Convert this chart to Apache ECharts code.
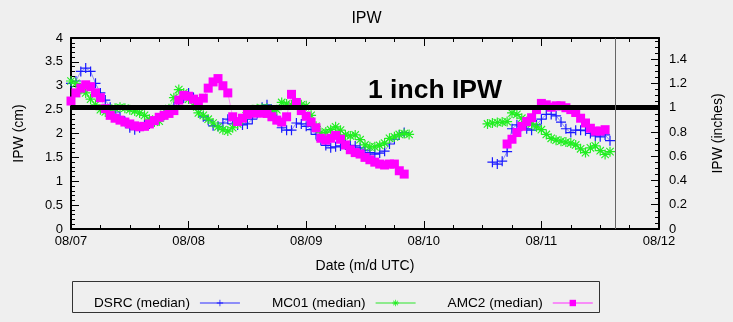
<!DOCTYPE html>
<html><head><meta charset="utf-8">
<script src="https://cdn.jsdelivr.net/npm/echarts@6/dist/echarts.min.js"></script>
<style>html,body{margin:0;padding:0;background:#efefef}#c{width:733px;height:322px}</style>
</head><body><div id="c"></div>
<script>
// x values are hours after 08/07 00:00 UTC
const tickLabels = ['08/07', '08/08', '08/09', '08/10', '08/11', '08/12'];
const seriesNames = ['DSRC (median)', 'MC01 (median)', 'AMC2 (median)'];

const dsrcSeg1Start = 0;
const dsrcSeg1 = [3.05, 3.1, 3.3, 3.37, 3.3, 3.05, 2.85, 2.7, 2.55, 2.45, 2.35, 2.25, 2.12, 2.08, 2.12, 2.18, 2.2, 2.25, 2.3, 2.38, 2.45, 2.55, 2.65, 2.75, 2.85, 2.75, 2.55, 2.35, 2.28, 2.16, 2.15, 2.22, 2.3, 2.2, 2.18, 2.18, 2.2, 2.3, 2.42, 2.55, 2.6, 2.45, 2.3, 2.12, 2.07, 2.07, 2.22, 2.2, 2.15, 2.08, 1.98, 1.86, 1.75, 1.7, 1.72, 1.74, 1.76, 1.75, 1.74, 1.7, 1.65, 1.6, 1.57, 1.59, 1.63, 1.78, 1.88, 1.97, 2.02];
const dsrcSeg2Start = 86;
const dsrcSeg2 = [1.4, 1.36, 1.42, 1.62, 2.1, 2.18, 2.15, 2.1, 2.07, 2.18, 2.3, 2.4, 2.4, 2.37, 2.24, 2.1, 2.02, 2.07, 2.07, 2.06, 2.0, 1.95, 1.93, 1.97, 1.85];

const mc01Seg1Start = 0;
const mc01Seg1 = [3.1, 3.05, 2.92, 2.85, 2.72, 2.6, 2.5, 2.45, 2.5, 2.53, 2.55, 2.53, 2.5, 2.47, 2.43, 2.38, 2.3, 2.24, 2.26, 2.4, 2.52, 2.75, 2.92, 2.85, 2.72, 2.58, 2.43, 2.38, 2.3, 2.22, 2.14, 2.08, 2.05, 2.12, 2.2, 2.3, 2.44, 2.5, 2.52, 2.53, 2.53, 2.48, 2.5, 2.65, 2.62, 2.6, 2.6, 2.6, 2.58, 2.38, 2.15, 2.02, 2.03, 2.08, 2.14, 2.07, 1.97, 1.95, 1.97, 1.87, 1.76, 1.72, 1.72, 1.75, 1.8, 1.9, 1.93, 1.98, 2.0, 1.98];
const mc01Seg2Start = 85;
const mc01Seg2 = [2.2, 2.22, 2.23, 2.24, 2.25, 2.43, 2.4, 2.32, 2.25, 2.2, 2.14, 2.08, 1.98, 1.9, 1.86, 1.84, 1.82, 1.8, 1.76, 1.68, 1.6, 1.7, 1.74, 1.64, 1.56, 1.62];

const amc2Seg1Start = 0;
const amc2Seg1 = [2.68, 2.85, 2.95, 3.02, 2.98, 2.85, 2.75, 2.52, 2.38, 2.32, 2.28, 2.24, 2.2, 2.16, 2.14, 2.15, 2.2, 2.27, 2.34, 2.38, 2.42, 2.48, 2.7, 2.8, 2.78, 2.72, 2.67, 2.74, 2.95, 3.08, 3.15, 3.0, 2.85, 2.35, 2.25, 2.32, 2.4, 2.43, 2.43, 2.43, 2.42, 2.35, 2.28, 2.24, 2.35, 2.82, 2.65, 2.48, 2.36, 2.24, 2.12, 1.9, 1.86, 1.9, 1.96, 1.88, 1.76, 1.66, 1.6, 1.57, 1.5, 1.45, 1.4, 1.36, 1.34, 1.36, 1.36, 1.22, 1.15];
const amc2Seg2Start = 89;
const amc2Seg2 = [1.78, 1.88, 2.02, 2.15, 2.25, 2.33, 2.5, 2.63, 2.6, 2.55, 2.58, 2.58, 2.54, 2.5, 2.44, 2.32, 2.22, 2.11, 2.05, 2.05, 2.08];

const oneInchCm = 2.54;
const markerHour = 111;

function build(s1, a1, s2, a2) {
  const d = [];
  a1.forEach((v, i) => d.push([s1 + i, v]));
  d.push([(s1 + a1.length + s2) / 2, '-']);
  a2.forEach((v, i) => d.push([s2 + i, v]));
  return d;
}

const plusPath = 'path://M4.4,0h1.2v4.4h4.4v1.2h-4.4v4.4h-1.2v-4.4h-4.4v-1.2h4.4z';
const starPath = 'path://M4.4,0h1.2v10h-1.2z M0,4.4h10v1.2h-10z M0.9,1.7L1.7,0.9L9.1,8.3L8.3,9.1z M8.3,0.9L9.1,1.7L1.7,9.1L0.9,8.3z';

const chart = echarts.init(document.getElementById('c'), null, {renderer: 'canvas'});
const FONT = 'Liberation Sans';
const axisCommon = {
  axisLine: {show: true, onZero: false, lineStyle: {color: '#000', width: 2}},
  axisTick: {show: true, inside: true, length: 8, lineStyle: {color: '#000', width: 1}},
  minorTick: {show: true, length: 4, lineStyle: {color: '#000', width: 1}},
  splitLine: {show: false}
};

chart.setOption({
  backgroundColor: '#efefef',
  animation: false,
  title: {text: 'IPW', left: 'center', top: 6, textStyle: {fontFamily: FONT, fontSize: 16, fontWeight: 'normal', color: '#000'}},
  grid: {left: 71, right: 73, top: 38, bottom: 93},
  legend: {
    data: seriesNames, left: 89, top: 291, align: 'right', itemWidth: 40, itemHeight: 8, itemGap: 31,
    textStyle: {fontFamily: FONT, fontSize: 13.6, color: '#000', padding: [0, 5, 0, 0]},
    lineStyle: {width: 2}
  },
  graphic: [
    {type: 'rect', shape: {x: 72.5, y: 281.5, width: 527, height: 31}, style: {fill: 'none', stroke: '#333', lineWidth: 1}, silent: true},
    {type: 'text', left: 368, top: 77, style: {text: '1 inch IPW', font: 'bold 26.5px "Liberation Sans"', fill: '#000'}, z: 100}
  ],
  xAxis: [
    Object.assign({}, axisCommon, {
      type: 'value', min: 0, max: 120, interval: 24, position: 'bottom',
      minorTick: Object.assign({}, axisCommon.minorTick, {splitNumber: 4}),
      axisLabel: {formatter: v => tickLabels[Math.round(v / 24)], fontFamily: FONT, fontSize: 13, color: '#000', margin: 6},
      name: 'Date (m/d UTC)', nameLocation: 'middle', nameGap: 30,
      nameTextStyle: {fontFamily: FONT, fontSize: 14, color: '#000'}
    }),
    Object.assign({}, axisCommon, {
      type: 'value', min: 0, max: 120, interval: 24, position: 'top',
      minorTick: Object.assign({}, axisCommon.minorTick, {splitNumber: 4}),
      axisLabel: {show: false}
    })
  ],
  yAxis: [
    Object.assign({}, axisCommon, {
      type: 'value', min: 0, max: 4, interval: 0.5, position: 'left',
      minorTick: Object.assign({}, axisCommon.minorTick, {splitNumber: 5}),
      axisLabel: {fontFamily: FONT, fontSize: 13, color: '#000', margin: 8},
      name: 'IPW (cm)', nameLocation: 'middle', nameGap: 45, nameRotate: 90,
      nameTextStyle: {fontFamily: FONT, fontSize: 14, color: '#000'}
    }),
    Object.assign({}, axisCommon, {
      type: 'value', min: 0, max: 4 / 2.54, interval: 0.2, position: 'right',
      minorTick: Object.assign({}, axisCommon.minorTick, {splitNumber: 4}),
      axisLabel: {fontFamily: FONT, fontSize: 13, color: '#000', margin: 10, showMaxLabel: false,
        formatter: v => String(Math.round(v * 10) / 10)},
      name: 'IPW (inches)', nameLocation: 'middle', nameGap: 52, nameRotate: 90,
      nameTextStyle: {fontFamily: FONT, fontSize: 14, color: '#000'}
    })
  ],
  series: [
    {
      name: seriesNames[0], type: 'line', data: build(dsrcSeg1Start, dsrcSeg1, dsrcSeg2Start, dsrcSeg2),
      symbol: plusPath, symbolSize: 10, showAllSymbol: true,
      itemStyle: {color: '#1a1aff'}, lineStyle: {color: 'rgba(60,60,255,0.55)', width: 1}, z: 2
    },
    {
      name: seriesNames[1], type: 'line', data: build(mc01Seg1Start, mc01Seg1, mc01Seg2Start, mc01Seg2),
      symbol: starPath, symbolSize: 10, showAllSymbol: true,
      itemStyle: {color: '#22ee22'}, lineStyle: {color: 'rgba(60,230,60,0.55)', width: 1}, z: 3
    },
    {
      name: seriesNames[2], type: 'line', data: build(amc2Seg1Start, amc2Seg1, amc2Seg2Start, amc2Seg2),
      symbol: 'rect', symbolSize: 9, showAllSymbol: true,
      itemStyle: {color: '#ff00ff'}, lineStyle: {color: 'rgba(255,60,255,0.55)', width: 1}, z: 4,
      markLine: {
        silent: true, symbol: 'none', z: 10, label: {show: false}, animation: false,
        data: [
          {yAxis: oneInchCm, lineStyle: {color: '#000', width: 5, type: 'solid'}},
          {xAxis: markerHour, lineStyle: {color: '#666', width: 1, type: 'solid'}}
        ]
      }
    }
  ]
});
</script></body></html>
